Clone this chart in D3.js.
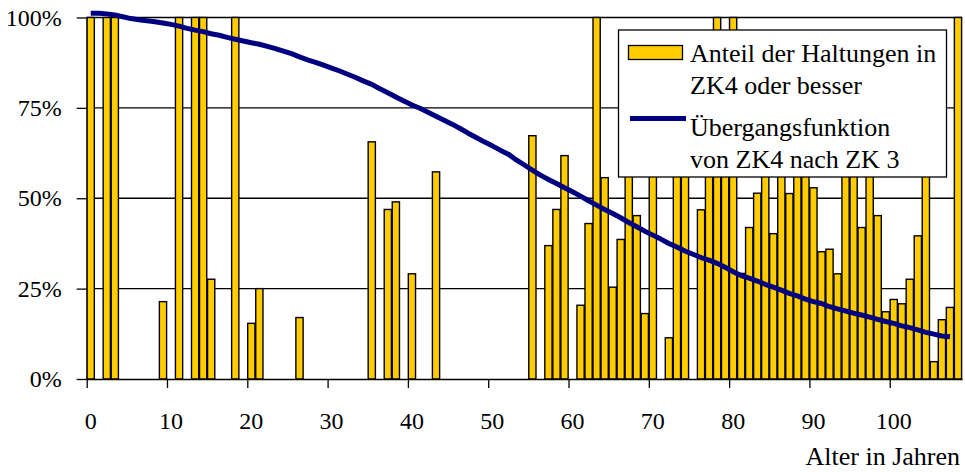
<!DOCTYPE html>
<html>
<head>
<meta charset="utf-8">
<script src="https://cdn.jsdelivr.net/npm/d3@7"></script>
<style>
  html, body { margin: 0; padding: 0; background: #fff; }
  svg { display: block; }
  svg text { font-family: "Liberation Serif", "Times New Roman", "DejaVu Serif", serif; fill: #000; }
</style>
</head>
<body>
<svg id="chart" width="965" height="472"></svg>
<script>
// Age classes (years) on the category axis
const ages = d3.range(0, 109);

// Share of sewer sections in condition class ZK4 or better, per age
const shareZK4 = [
  1.00, 0, 1.00, 1.00, 0, 0, 0, 0, 0, 0.214,
  0, 1.00, 0, 1.00, 1.00, 0.276, 0, 0, 1.00, 0,
  0.154, 0.25, 0, 0, 0, 0, 0.17, 0, 0, 0,
  0, 0, 0, 0, 0, 0.656, 0, 0.469, 0.49, 0,
  0.291, 0, 0, 0.573, 0, 0, 0, 0, 0, 0,
  0, 0, 0, 0, 0, 0.673, 0, 0.369, 0.469, 0.618,
  0, 0.204, 0.43, 1.00, 0.557, 0.254, 0.386, 0.75, 0.452, 0.181,
  0.67, 0, 0.114, 0.80, 0.62, 0, 0.468, 0.70, 1.00, 0.75,
  1.00, 0.292, 0.419, 0.514, 0.62, 0.402, 0.67, 0.513, 0.64, 0.66,
  0.529, 0.352, 0.359, 0.291, 0.62, 0.68, 0.419, 0.60, 0.452, 0.186,
  0.22, 0.208, 0.276, 0.396, 0.62, 0.048, 0.164, 0.198, 1.00
];

// Transition function from ZK4 to ZK 3, per age
const transition = [
  1.012, 1.012, 1.010, 1.007, 1.002, 0.997, 0.994, 0.991, 0.988, 0.985,
  0.981, 0.976, 0.970, 0.965, 0.961, 0.955, 0.951, 0.945, 0.940, 0.935,
  0.930, 0.926, 0.920, 0.914, 0.907, 0.900, 0.891, 0.883, 0.876, 0.868,
  0.860, 0.852, 0.843, 0.834, 0.824, 0.815, 0.803, 0.792, 0.780, 0.769,
  0.758, 0.749, 0.738, 0.727, 0.716, 0.705, 0.693, 0.680, 0.668, 0.656,
  0.645, 0.633, 0.622, 0.606, 0.592, 0.578, 0.564, 0.552, 0.541, 0.529,
  0.518, 0.506, 0.493, 0.481, 0.469, 0.458, 0.446, 0.433, 0.421, 0.409,
  0.398, 0.387, 0.375, 0.365, 0.354, 0.345, 0.336, 0.329, 0.320, 0.309,
  0.297, 0.286, 0.279, 0.271, 0.262, 0.254, 0.246, 0.237, 0.230, 0.221,
  0.214, 0.209, 0.200, 0.194, 0.188, 0.182, 0.177, 0.171, 0.165, 0.159,
  0.154, 0.147, 0.142, 0.136, 0.129, 0.124, 0.119, 0.117
];

const xTickValues = [0, 10, 20, 30, 40, 50, 60, 70, 80, 90, 100];
const yTickValues = [0, 0.25, 0.5, 0.75, 1];
const legendLabels = [
  ["Anteil der Haltungen in", "ZK4 oder besser"],
  ["Übergangsfunktion", "von ZK4 nach ZK 3"]
];
const axisTitle = "Alter in Jahren";

const svg = d3.select("#chart");
const plotLeft = 86.7, plotRight = 962, plotTop = 17.5, plotBottom = 379;

const x = d3.scaleBand().domain(ages).range([plotLeft, plotRight]).paddingInner(0.1).paddingOuter(0.05);
const xEdge = d3.scaleLinear().domain([0, ages.length]).range([plotLeft, plotRight]);
const y = d3.scaleLinear().domain([0, 1]).range([plotBottom, plotTop]);

// value axis with outside ticks
const yAxis = svg.append("g")
  .attr("transform", `translate(${plotLeft},0)`)
  .call(d3.axisLeft(y).tickValues(yTickValues).tickFormat(d3.format(".0%"))
    .tickSize(10).tickPadding(15).tickSizeOuter(0));
yAxis.attr("font-family", null).attr("font-size", 24);
yAxis.select(".domain").attr("stroke", "#000").attr("stroke-width", 1.3);
yAxis.selectAll(".tick line").attr("stroke", "#000").attr("stroke-width", 1.3);

// horizontal gridlines
svg.append("g").selectAll("line").data(yTickValues.filter(d => d > 0)).join("line")
  .attr("x1", plotLeft).attr("x2", plotRight)
  .attr("y1", d => y(d)).attr("y2", d => y(d))
  .attr("stroke", "#000").attr("stroke-width", 1.3);

// bars
svg.append("g").selectAll("rect").data(ages.filter(a => shareZK4[a] > 0)).join("rect")
  .attr("x", a => x(a))
  .attr("width", x.bandwidth())
  .attr("y", a => y(shareZK4[a]))
  .attr("height", a => y(0) - y(shareZK4[a]))
  .attr("fill", "#FFCC00")
  .attr("stroke", "#000")
  .attr("stroke-width", 1.4);

// transition curve
const line = d3.line()
  .x((d, i) => x(ages[i]) + x.bandwidth() / 2)
  .y(d => y(d));
svg.append("path")
  .datum(transition)
  .attr("d", line)
  .attr("fill", "none")
  .attr("stroke", "#000080")
  .attr("stroke-width", 5)
  .attr("stroke-linejoin", "round");

// category axis: tick marks on class boundaries, labels centred on classes
const xTicks = svg.append("g")
  .attr("transform", `translate(0,${plotBottom})`)
  .call(d3.axisBottom(xEdge).tickValues(xTickValues).tickFormat("").tickSize(9).tickSizeOuter(0));
xTicks.select(".domain").attr("stroke", "#000").attr("stroke-width", 1.5);
xTicks.selectAll(".tick line").attr("stroke", "#000").attr("stroke-width", 1.3);

const xLabels = svg.append("g")
  .attr("transform", `translate(0,${plotBottom})`)
  .call(d3.axisBottom(x).tickValues(xTickValues).tickSize(0).tickPadding(33));
xLabels.attr("font-family", null).attr("font-size", 24);
xLabels.select(".domain").remove();

svg.append("text")
  .attr("x", 960).attr("y", 465)
  .attr("text-anchor", "end")
  .attr("font-size", 26)
  .text(axisTitle);

// legend
const lg = svg.append("g");
lg.append("rect").attr("x", 618.5).attr("y", 30).attr("width", 328).attr("height", 147)
  .attr("fill", "#fff").attr("stroke", "#000").attr("stroke-width", 1.3);
lg.append("rect").attr("x", 628.5).attr("y", 45.5).attr("width", 54).attr("height", 14)
  .attr("fill", "#FFCC00").attr("stroke", "#000").attr("stroke-width", 1.3);
lg.append("line").attr("x1", 630).attr("x2", 686).attr("y1", 118.5).attr("y2", 118.5)
  .attr("stroke", "#000080").attr("stroke-width", 5);
const legendBaselines = [[62, 94], [136, 168]];
legendLabels.forEach((pair, k) => {
  pair.forEach((t, j) => {
    lg.append("text").attr("x", 690).attr("y", legendBaselines[k][j])
      .attr("font-size", 26).text(t);
  });
});
</script>
</body>
</html>
